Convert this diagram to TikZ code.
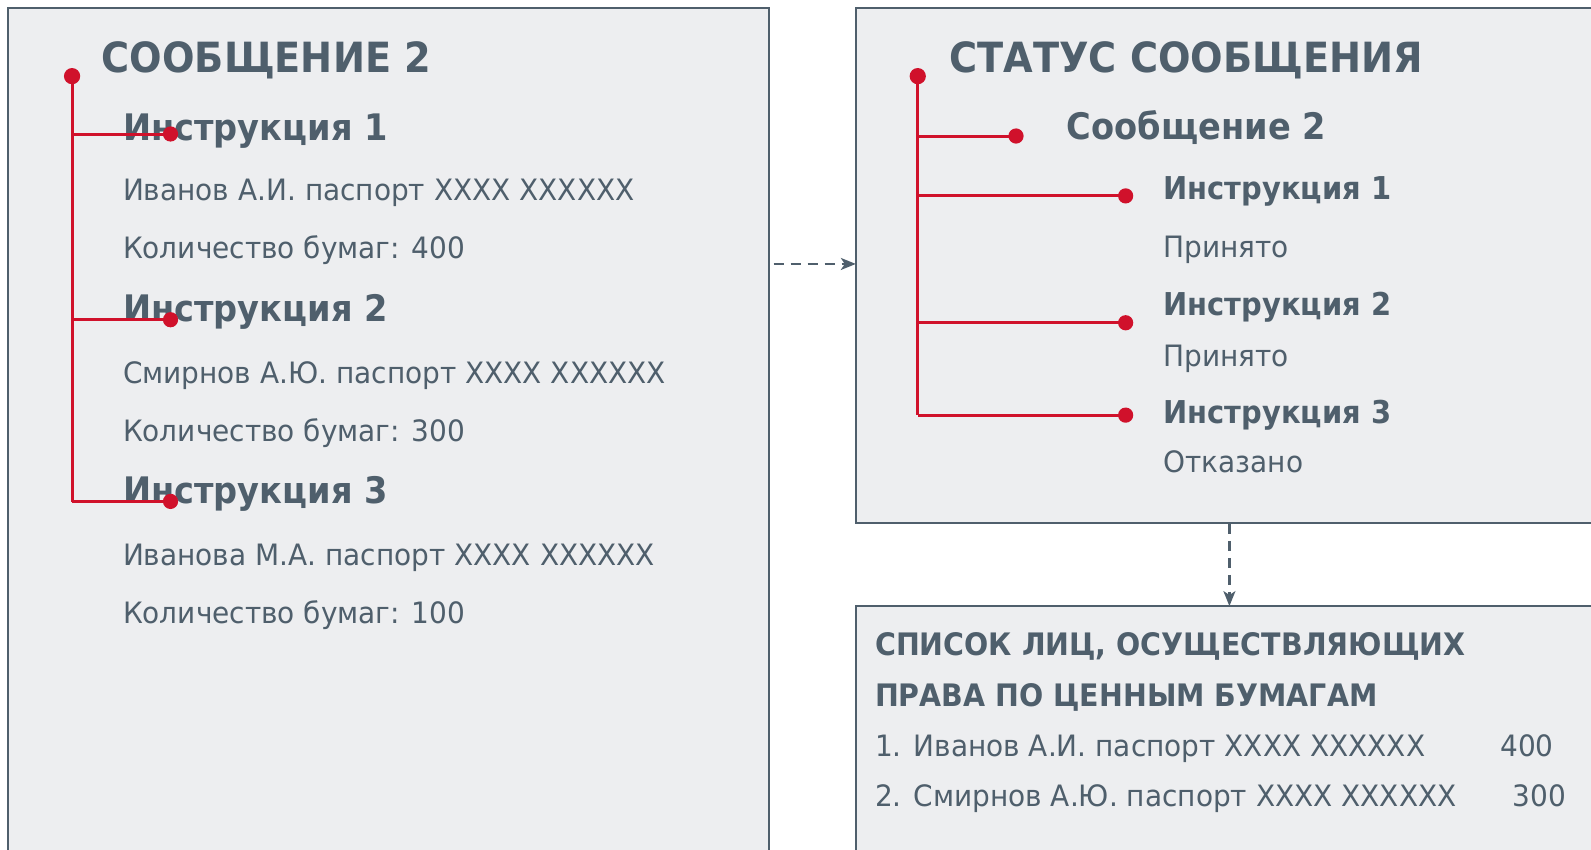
\documentclass[tikz,border=0pt]{standalone}
\usepackage{fontspec}
\setmainfont{DejaVu Sans}[FakeStretch=0.95, BoldFeatures={FakeStretch=0.92}]
\usetikzlibrary{arrows.meta}

\definecolor{slate}{HTML}{4F5F6C}
\definecolor{pane}{HTML}{EDEEF0}
\definecolor{redc}{HTML}{D0112B}

\tikzset{
	panel/.style={fill=pane},
	rim/.style={draw=slate, line width=2bp},
	reddot/.style={circle, fill=redc, inner sep=0pt, minimum size=15bp},
	stem/.style={draw=redc, line width=3bp},
	flow/.style={draw=slate, line width=2.2bp, dash pattern=on 10bp off 7bp, -{Stealth[length=15bp,width=12bp,inset=4bp]}},
	txt/.style={anchor=base west, inner sep=0pt, yshift=2bp, text=slate, font=\fontsize{29bp}{34bp}\selectfont},
	head/.style={txt, font=\fontsize{36bp}{40bp}\selectfont\bfseries},
	headsm/.style={txt, font=\fontsize{31bp}{34bp}\selectfont\bfseries},
	title/.style={txt, font=\fontsize{41bp}{48bp}\selectfont\bfseries}
}

\begin{document}
\begin{tikzpicture}[x=1bp, y=-1bp, scale=1.015, every node/.append style={transform shape}]
		\useasboundingbox [fill=white] (0,0) rectangle (1567.5,837.4);
		% boxes
		\fill [panel] (8,8) rectangle (758,837.4);
		\fill [panel] (843,8) rectangle (1567.5,515);
		\fill [panel] (843,597) rectangle (1567.5,837.4);
		\draw [rim] (8,837.4) -- (8,8) -- (758,8) -- (758,837.4);
		\draw [rim] (1567.5,8) -- (843,8) -- (843,515) -- (1567.5,515);
		\draw [rim] (1567.5,597) -- (843,597) -- (843,837.4);
		% left box: message
		\node [title] (msg) at (100,73) {СООБЩЕНИЕ 2};
		\node [head] (i1) at (121,140) {Инструкция 1};
		\node [txt] at (121,200) {Иванов А.И. паспорт XXXX XXXXXX};
		\node [txt] at (121,257) {Количество бумаг: 400};
		\node [head] (i2) at (121,319) {Инструкция 2};
		\node [txt] at (121,380) {Смирнов А.Ю. паспорт XXXX XXXXXX};
		\node [txt] at (121,437) {Количество бумаг: 300};
		\node [head] (i3) at (121,498) {Инструкция 3};
		\node [txt] at (121,559) {Иванова М.А. паспорт XXXX XXXXXX};
		\node [txt] at (121,616) {Количество бумаг: 100};
		\coordinate (L0) at (71,75);
		\coordinate (L1) at (71,132);
		\coordinate (L2) at (71,315);
		\coordinate (L3) at (71,494);
		\node [reddot] (d1) at (168,132) {};
		\node [reddot] (d2) at (168,315) {};
		\node [reddot] (d3) at (168,494) {};
		\draw [stem] (L0) -- (L3);
		\draw [stem] (L1) -- (d1.center);
		\draw [stem] (L2) -- (d2.center);
		\draw [stem] (L3) -- (d3.center);
		\node [reddot, minimum size=16bp] (d0) at (L0) {};
		% right box: status
		\node [title] (st) at (935,73) {СТАТУС СООБЩЕНИЯ};
		\node [head] (s0) at (1051,139) {Сообщение 2};
		\node [headsm] (s1) at (1146,199) {Инструкция 1};
		\node [txt] at (1146,256) {Принято};
		\node [headsm] (s2) at (1146,313) {Инструкция 2};
		\node [txt] at (1146,363) {Принято};
		\node [headsm] (s3) at (1146,419) {Инструкция 3};
		\node [txt] at (1146,468) {Отказано};
		\coordinate (R0) at (904,75);
		\coordinate (R1) at (904,134);
		\coordinate (R2) at (904,193);
		\coordinate (R3) at (904,318);
		\coordinate (R4) at (904,409);
		\node [reddot] (e1) at (1001,134) {};
		\node [reddot] (e2) at (1109,193) {};
		\node [reddot] (e3) at (1109,318) {};
		\node [reddot] (e4) at (1109,409) {};
		\draw [stem] (R0) -- (R4);
		\draw [stem] (R1) -- (e1.center);
		\draw [stem] (R2) -- (e2.center);
		\draw [stem] (R3) -- (e3.center);
		\draw [stem] (R4) -- (e4.center);
		\node [reddot, minimum size=16bp] (e0) at (R0) {};
		% bottom box: list
		\node [headsm, font=\fontsize{30.5bp}{34bp}\selectfont\bfseries] (ls) at (862,648) {СПИСОК ЛИЦ, ОСУЩЕСТВЛЯЮЩИХ};
		\node [headsm, font=\fontsize{30.5bp}{34bp}\selectfont\bfseries] at (862,698) {ПРАВА ПО ЦЕННЫМ БУМАГАМ};
		\node [txt] at (862,747) {1. Иванов А.И. паспорт XXXX XXXXXX};
		\node [txt] at (1478,747) {400};
		\node [txt] at (862,797) {2. Смирнов А.Ю. паспорт XXXX XXXXXX};
		\node [txt] at (1490,797) {300};
		% arrows
		\coordinate (a0) at (762,260);
		\coordinate (a1) at (843,260);
		\coordinate (b0) at (1211,516);
		\coordinate (b1) at (1211,597);
		\draw [flow] (a0) -- (a1);
		\draw [flow] (b0) -- (b1);
	\end{tikzpicture}
\end{document}
